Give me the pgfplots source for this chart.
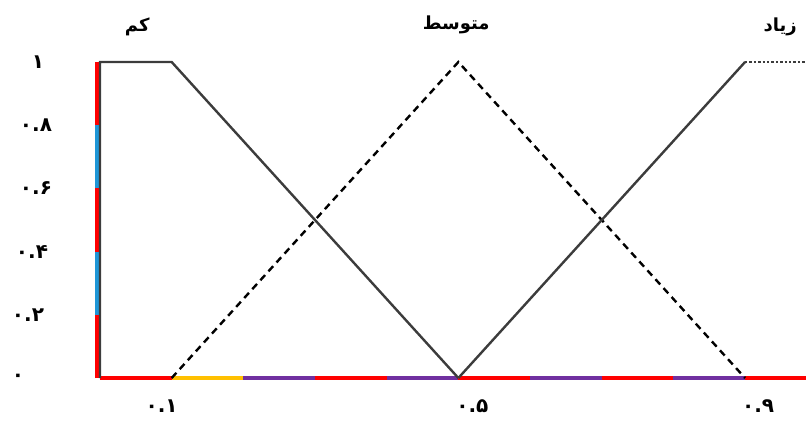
\documentclass[border=0pt]{standalone}
\usepackage{pgfplots}
\pgfplotsset{compat=1.18}
\usepackage{fontspec}
\TeXXeTstate=1
\newfontfamily\arabicfont[Script=Arabic]{DejaVu Sans}
\definecolor{segred}{RGB}{255,0,0}
\definecolor{segblue}{RGB}{30,150,215}
\definecolor{segorange}{RGB}{255,192,0}
\definecolor{segpurple}{RGB}{112,48,160}
\definecolor{curve}{RGB}{60,60,60}
% shift a tick label sideways by #1
\newcommand\sh[2]{\makebox[0pt]{\hspace*{#1}\hspace*{#1}#2}}
\begin{document}
\begin{tikzpicture}
\begin{axis}[
  scale only axis, width=353pt, height=158pt,
  xmin=0, xmax=0.985, ymin=0, ymax=1,
  clip=false,
  axis line style={draw=none}, tick style={draw=none},
  xtick={0.1,0.5,0.9},
  xticklabels={\sh{-5pt}{۰.۱}, \sh{7pt}{۰.۵}, \sh{6.5pt}{۰.۹}},
  ytick={0,0.2,0.4,0.6,0.8,1},
  yticklabels={\sh{-8.5pt}{۰}, \sh{-3.5pt}{۰.۲}, \sh{-1.5pt}{۰.۴}, \sh{0.5pt}{۰.۶}, \sh{0.5pt}{۰.۸}, \sh{1.5pt}{۱}},
  tick label style={font=\arabicfont\bfseries},
  xticklabel style={anchor=center, yshift=-14pt},
  yticklabel style={anchor=center, xshift=-32.5pt},
]
% coloured axis segments
\addplot[segred, line width=2pt, xshift=-1.4pt] coordinates {(0,0) (0,0.2)};
\addplot[segblue, line width=2pt, xshift=-1.4pt] coordinates {(0,0.2) (0,0.4)};
\addplot[segred, line width=2pt, xshift=-1.4pt] coordinates {(0,0.4) (0,0.6)};
\addplot[segblue, line width=2pt, xshift=-1.4pt] coordinates {(0,0.6) (0,0.8)};
\addplot[segred, line width=2pt, xshift=-1.4pt] coordinates {(0,0.8) (0,1)};
\addplot[segred, line width=2pt] coordinates {(0,0) (0.1,0)};
\addplot[segorange, line width=2pt] coordinates {(0.1,0) (0.2,0)};
\addplot[segpurple, line width=2pt] coordinates {(0.2,0) (0.3,0)};
\addplot[segred, line width=2pt] coordinates {(0.3,0) (0.4,0)};
\addplot[segpurple, line width=2pt] coordinates {(0.4,0) (0.5,0)};
\addplot[segred, line width=2pt] coordinates {(0.5,0) (0.6,0)};
\addplot[segpurple, line width=2pt] coordinates {(0.6,0) (0.7,0)};
\addplot[segred, line width=2pt] coordinates {(0.7,0) (0.8,0)};
\addplot[segpurple, line width=2pt] coordinates {(0.8,0) (0.9,0)};
\addplot[segred, line width=2pt] coordinates {(0.9,0) (0.985,0)};
% membership functions
\addplot[curve, line width=1.2pt] coordinates {(0,0) (0,1) (0.1,1) (0.5,0)};
\addplot[black, line width=1.2pt, dash pattern=on 3.5pt off 2.5pt] coordinates {(0.1,0) (0.5,1) (0.9,0)};
\addplot[curve, line width=1.2pt] coordinates {(0.5,0) (0.9,1)};
\addplot[curve, line width=1.2pt, densely dotted] coordinates {(0.9,1) (0.985,1)};
\node[font=\arabicfont\bfseries\fontsize{9}{10}\selectfont] at (axis cs:0.052,1.11) {\beginR کم\endR};
\node[font=\arabicfont\bfseries\fontsize{9}{10}\selectfont] at (axis cs:0.497,1.117) {\beginR متوسط\endR};
\node[font=\arabicfont\bfseries\fontsize{9}{10}\selectfont] at (axis cs:0.949,1.11) {\beginR زیاد\endR};
\coordinate (bl) at (rel axis cs:0,0);
\coordinate (tr) at (rel axis cs:1,1);
\end{axis}
\pgfresetboundingbox
\path ([shift={(-50pt,-22.5pt)}]bl) rectangle ([shift={(0pt,31pt)}]tr);
\end{tikzpicture}
\end{document}
